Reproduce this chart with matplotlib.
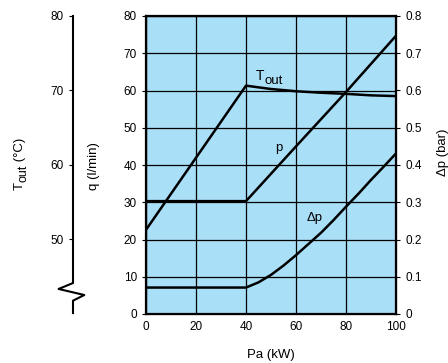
import numpy as np
import matplotlib
matplotlib.use("Agg")
from matplotlib import pyplot as plt
from matplotlib import transforms

plt.rcParams["font.family"] = ["Liberation Sans", "DejaVu Sans"]

# Données
pa_tout = [0, 40, 50, 60, 70, 80, 90, 100]
t_out = [51.3, 70.65, 70.2, 69.9, 69.7, 69.55, 69.35, 69.25]   # °C

pa_p = [0, 40, 60, 80, 100]
p = [30.3, 30.3, 45.0, 59.6, 74.7]                               # l/min

pa_dp = [0, 40, 45, 50, 55, 60, 65, 70, 75, 80, 85, 90, 95, 100]
dp = [0.071, 0.071, 0.085, 0.105, 0.13, 0.158, 0.188, 0.218,
      0.252, 0.288, 0.323, 0.36, 0.395, 0.431]                   # bar

x_ticks = [0, 20, 40, 60, 80, 100]
q_ticks = [0, 10, 20, 30, 40, 50, 60, 70, 80]
t_ticks = [50, 60, 70, 80]
dp_ticks = [0, 0.1, 0.2, 0.3, 0.4, 0.5, 0.6, 0.7, 0.8]
dp_labels = ["0", "0.1", "0.2", "0.3", "0.4", "0.5", "0.6", "0.7", "0.8"]

W, H = 448, 363
fig = plt.figure(figsize=(W / 100, H / 100), dpi=100)
ax = fig.add_axes([146 / W, 1 - 314 / H, 250 / W, 298 / H])
ax.set_facecolor("#aadff8")
ax.set_xlim(0, 100)
ax.set_ylim(0, 80)
ax.set_xticks(x_ticks)
ax.set_yticks(q_ticks)
ax.grid(True, color="black", linewidth=0.9)
ax.set_axisbelow(True)
for s in ax.spines.values():
    s.set_linewidth(1.6)
ax.tick_params(labelsize=8.5, length=3, width=0.8)
ax.tick_params(axis="x", length=0, pad=5)

lw = 1.8
ax.plot(pa_p, p, color="black", linewidth=lw)

# Axe Δp à droite
ax_dp = ax.twinx()
ax_dp.set_ylim(0, 0.8)
ax_dp.set_yticks(dp_ticks)
ax_dp.set_yticklabels(dp_labels)
ax_dp.tick_params(labelsize=8.5, length=3, width=0.8)
ax_dp.plot(pa_dp, dp, color="black", linewidth=lw)

# Axe T_out à gauche, décalé
ax_t = ax.twinx()
ax_t.set_ylim(40, 80)
for s in ax_t.spines.values():
    s.set_visible(False)
ax_t.yaxis.set_ticks_position("left")
ax_t.spines["left"].set_position(("outward", 73 * 0.72))
ax_t.set_yticks(t_ticks)
ax_t.tick_params(labelsize=8.5, length=3, width=0.8, direction="out")
ax_t.plot(pa_tout, t_out, color="black", linewidth=lw)

# ligne de l'axe T avec coupure
trans = transforms.blended_transform_factory(
    transforms.offset_copy(ax_t.transAxes, fig=fig, x=-73, units="dots"), ax_t.transData)
fx = [0, 0, -14.4, 11.3, 0, 0]
fy = [80, 44.16, 43.36, 42.55, 41.79, 40.13]
zx = [v / 250 for v in fx]
ax_t.plot(zx, fy, color="black", linewidth=1.5, transform=trans, clip_on=False)

# Étiquettes des courbes
t1 = ax.text(47.2, 62.8, "T", fontsize=10, ha="right", va="baseline")
ax.annotate("out", xy=(1, 0), xycoords=t1, xytext=(0.5, -3), textcoords="offset points",
            fontsize=9.5, ha="left", va="bottom")
ax.text(53.2, 44.6, "p", fontsize=9.5, ha="center", va="center")
ax.text(67.6, 25.8, "Δp", fontsize=9.5, ha="center", va="center")

# Titres des axes
px = transforms.IdentityTransform()
fig.text(271, H - 355, "Pa (kW)", fontsize=9.5, ha="center", va="center", transform=px)
fig.text(94, H - 166, "q (l/min)", fontsize=9.5, ha="center", va="center", rotation=90,
         transform=px)
fig.text(443, H - 152, "Δp (bar)", fontsize=9.5, ha="center", va="center", rotation=90,
         transform=px)

a1 = fig.text(20, H - 186, "T", fontsize=9.5, ha="center", va="center", rotation=90,
              transform=px)
a2 = ax.annotate("out", xy=(0.5, 1), xycoords=a1, xytext=(2.2, 0), textcoords="offset points",
                 fontsize=9, ha="center", va="bottom", rotation=90)
ax.annotate(" (°C)", xy=(0.5, 1), xycoords=a2, xytext=(-2.2, 0), textcoords="offset points",
            fontsize=9.5, ha="center", va="bottom", rotation=90)

fig.savefig("out.png", dpi=100)
